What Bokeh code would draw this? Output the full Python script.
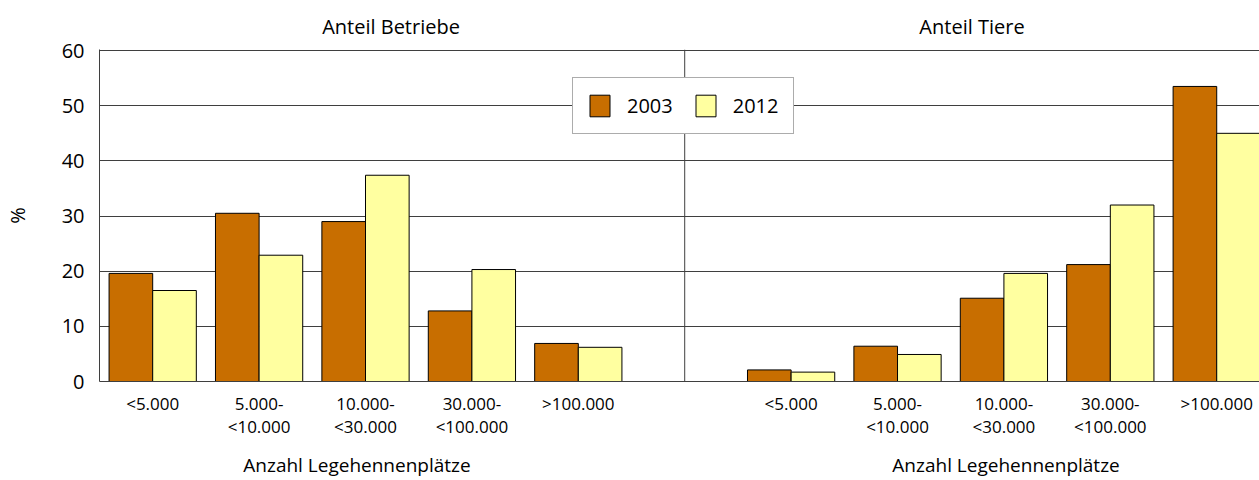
import numpy as np
from bokeh.plotting import figure
from bokeh.models import (Range1d, FixedTicker, Span, Legend, LegendItem,
                          ColumnDataSource, LinearAxis)
from bokeh.embed import file_html
from bokeh.resources import INLINE

# Size classes (laying hen places) and shares in percent
classes = ["<5.000", "5.000-\n<10.000", "10.000-\n<30.000", "30.000-\n<100.000", ">100.000"]
betriebe_2003 = [19.6, 30.5, 29.0, 12.8, 6.9]
betriebe_2012 = [16.5, 22.9, 37.4, 20.3, 6.2]
tiere_2003 = [2.1, 6.4, 15.1, 21.2, 53.5]
tiere_2012 = [1.7, 4.9, 19.6, 32.0, 45.0]
years = ["2003", "2012"]
panel_titles = ["Anteil Betriebe", "Anteil Tiere"]
x_title = "Anzahl Legehennenplätze"
y_ticks = [0, 10, 20, 30, 40, 50, 60]

FONT = "Open Sans"
C2003 = "#C86E00"
C2012 = "#FFFFA0"
GRID = "#3f3f3f"

# One shared category axis: five classes, one empty slot (panel divider), five classes
left_pos = np.arange(len(classes)) + 0.5
right_pos = left_pos + len(classes) + 1
bar_w = 0.41

p = figure(width=1259, height=480, output_backend="svg", toolbar_location=None,
           x_range=Range1d(0, 10.902), y_range=Range1d(0, 60.2),
           min_border_left=99, min_border_right=0, min_border_top=49, min_border_bottom=99)
p.outline_line_color = None
p.background_fill_color = "white"
p.border_fill_color = "white"

src03 = ColumnDataSource(dict(x=np.concatenate([left_pos, right_pos]) - bar_w / 2,
                              top=betriebe_2003 + tiere_2003))
src12 = ColumnDataSource(dict(x=np.concatenate([left_pos, right_pos]) + bar_w / 2,
                              top=betriebe_2012 + tiere_2012))
r03 = p.vbar(x="x", top="top", width=bar_w, bottom=0, source=src03,
             fill_color=C2003, line_color="black", line_width=1)
r12 = p.vbar(x="x", top="top", width=bar_w, bottom=0, source=src12,
             fill_color=C2012, line_color="black", line_width=1)


def text_only(axis):
    axis.major_tick_in = 0
    axis.major_tick_out = 0
    axis.minor_tick_line_color = None
    axis.major_label_text_color = "black"
    axis.major_label_text_font = FONT


# Category axis
ticks = list(left_pos) + list(right_pos)
p.xaxis.ticker = FixedTicker(ticks=ticks)
p.xaxis.major_label_overrides = {float(t): lab for t, lab in zip(ticks, classes + classes)}
text_only(p.xaxis[0])
p.xaxis.axis_line_color = GRID
p.xaxis.major_label_text_font_size = "17px"
p.xaxis.major_label_text_line_height = 1.0
p.xaxis.major_label_standoff = 10

# Axis titles below each panel
title_pos = [2.42, 8.52]
xt_axis = LinearAxis(ticker=FixedTicker(ticks=title_pos),
                     major_label_overrides={t: x_title for t in title_pos})
text_only(xt_axis)
xt_axis.axis_line_color = None
xt_axis.major_label_text_font_size = "19px"
xt_axis.major_label_standoff = 11
p.add_layout(xt_axis, "below")

# Panel titles above
head_pos = [2.74, 8.2]
head_axis = LinearAxis(ticker=FixedTicker(ticks=head_pos),
                       major_label_overrides=dict(zip(head_pos, panel_titles)))
text_only(head_axis)
head_axis.axis_line_color = None
head_axis.major_label_text_font_size = "20px"
head_axis.major_label_standoff = 10
p.add_layout(head_axis, "above")

# Value axis
p.yaxis.ticker = FixedTicker(ticks=y_ticks)
text_only(p.yaxis[0])
p.yaxis.axis_line_color = GRID
p.yaxis.major_label_text_font_size = "20px"
p.yaxis.major_label_standoff = 15
p.yaxis.axis_label = "%"
p.yaxis.axis_label_text_font = FONT
p.yaxis.axis_label_text_font_size = "20px"
p.yaxis.axis_label_text_font_style = "normal"
p.yaxis.axis_label_text_color = "black"
p.yaxis.axis_label_standoff = 28

p.xgrid.grid_line_color = None
p.ygrid.ticker = FixedTicker(ticks=y_ticks[1:])
p.ygrid.grid_line_color = GRID
p.ygrid.grid_line_width = 1

# Divider between the two panels
p.add_layout(Span(location=len(classes) + 0.5, dimension="height",
                  line_color=GRID, line_width=1))

legend = Legend(items=[LegendItem(label=years[0], renderers=[r03]),
                       LegendItem(label=years[1], renderers=[r12])],
                orientation="horizontal", location=(473, 247))
legend.label_text_font = FONT
legend.label_text_font_size = "20px"
legend.label_text_color = "black"
legend.glyph_width = 25
legend.glyph_height = 27
legend.label_standoff = 15
legend.spacing = 20
legend.padding = 14
legend.margin = 0
legend.border_line_color = "#5a5a5a"
legend.border_line_width = 1
legend.background_fill_color = "white"
legend.background_fill_alpha = 1
p.add_layout(legend)

open("out.html", "w").write(file_html(p, INLINE))
